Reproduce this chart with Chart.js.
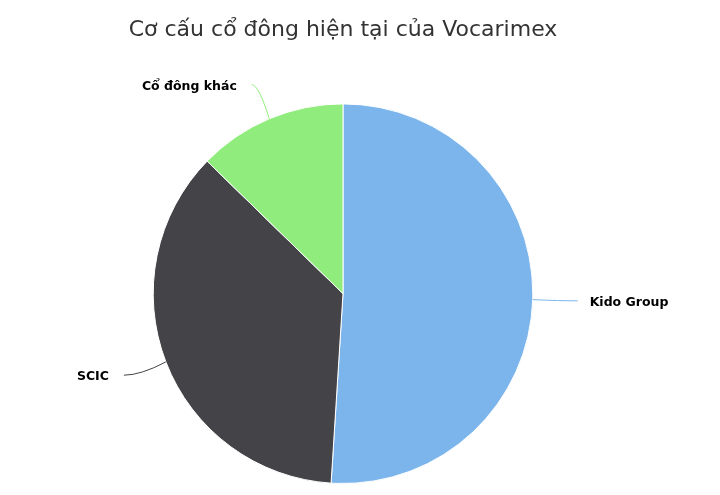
<!DOCTYPE html>
<html>
<head>
<meta charset="utf-8">
<script src="https://cdn.jsdelivr.net/npm/chart.js@4/dist/chart.umd.min.js"></script>
<style>
  html, body { margin: 0; padding: 0; background: #fff; }
  #wrap { position: relative; width: 720px; height: 495px; }
</style>
</head>
<body>
<div id="wrap"><canvas id="canvas" width="720" height="495"></canvas></div>
<script>
var titleText = "Cơ cấu cổ đông hiện tại của Vocarimex";
var holders = ["Kido Group", "SCIC", "Cổ đông khác"];
var shares = [51, 36.3, 12.7];
var colors = ["#7cb5ec", "#434348", "#90ed7d"];

// draws the outside labels with their connector lines
var pieLabels = {
  id: 'pieLabels',
  afterDatasetsDraw: function(chart) {
    var ctx = chart.ctx;
    var arcs = chart.getDatasetMeta(0).data;
    ctx.save();
    ctx.font = "bold 12.5px 'DejaVu Sans'";
    ctx.textBaseline = "middle";
    for (var i = 0; i < arcs.length; i++) {
      var a = arcs[i];
      var mid = (a.startAngle + a.endAngle) / 2;
      var dx = Math.cos(mid), dy = Math.sin(mid);
      var r = a.outerRadius;
      var x0 = a.x + r * dx, y0 = a.y + r * dy;
      var x1 = a.x + (r + 45) * dx, y1 = a.y + (r + 37) * dy;
      var left = dx < 0;
      ctx.strokeStyle = colors[i];
      ctx.lineWidth = 1;
      ctx.beginPath();
      ctx.moveTo(x0, y0);
      ctx.quadraticCurveTo(x0 + (x1 - x0) * 0.6, y1, x1, y1);
      ctx.stroke();
      ctx.fillStyle = "#000";
      ctx.textAlign = left ? "right" : "left";
      ctx.fillText(holders[i], x1 + (left ? -15 : 12), y1 + 2);
    }
    ctx.restore();
  }
};

var ctx = document.getElementById("canvas");
new Chart(ctx, {
  type: 'pie',
  data: {
    labels: holders,
    datasets: [{
      data: shares,
      backgroundColor: colors,
      borderColor: '#ffffff',
      borderWidth: 1
    }]
  },
  options: {
    responsive: false,
    animation: false,
    devicePixelRatio: 1,
    layout: { padding: { left: 0, right: 34, top: 0, bottom: 11 } },
    plugins: {
      legend: { display: false },
      tooltip: { enabled: false },
      title: {
        display: true,
        text: titleText,
        color: '#333333',
        font: { family: "'DejaVu Sans'", size: 22, weight: 'normal', lineHeight: 1.2 },
        padding: { top: 17, bottom: 60 }
      }
    }
  },
  plugins: [pieLabels]
});
</script>
</body>
</html>
